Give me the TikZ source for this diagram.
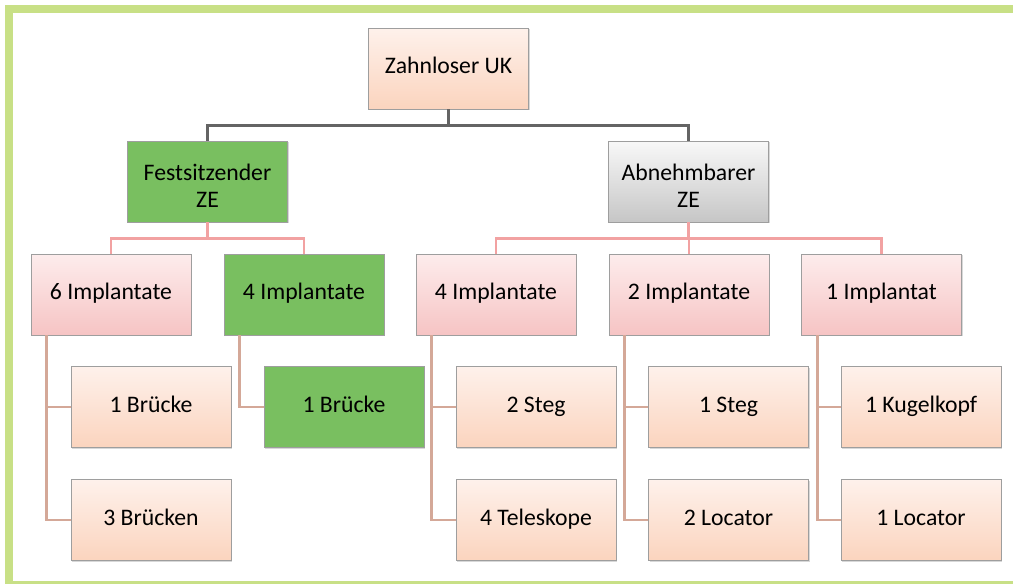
\documentclass[tikz,border=0pt]{standalone}
\usepackage{fontspec}
\setmainfont{Carlito}
\usetikzlibrary{shadows}

\definecolor{framegreen}{RGB}{200,224,134}
\definecolor{boxgreen}{RGB}{121,191,96}
\definecolor{peachtop}{RGB}{254,241,235}
\definecolor{peachbot}{RGB}{251,212,190}
\definecolor{pinktop}{RGB}{253,236,236}
\definecolor{pinkbot}{RGB}{246,196,196}
\definecolor{graytop}{RGB}{248,248,248}
\definecolor{graybot}{RGB}{198,198,198}
\definecolor{mainline}{RGB}{100,100,100}
\definecolor{branchline}{RGB}{242,162,162}
\definecolor{treeline}{RGB}{212,168,152}

\begin{document}
\begin{tikzpicture}[x=0.02cm,y=-0.02cm]
    \tikzstyle{box}=[draw=black!38, minimum width=3.2cm, minimum height=1.62cm, inner sep=0pt,
        align=center, font=\fontsize{13.5}{15.5}\selectfont,
        drop shadow={opacity=0.3,shadow xshift=0.8pt,shadow yshift=-0.8pt}]
    \tikzstyle{peach box}=[box, top color=peachtop, bottom color=peachbot]
    \tikzstyle{pink box}=[box, top color=pinktop, bottom color=pinkbot]
    \tikzstyle{gray box}=[box, top color=graytop, bottom color=graybot]
    \tikzstyle{green box}=[box, fill=boxgreen]
    \tikzstyle{main line}=[draw=mainline, line width=1.8pt]
    \tikzstyle{branch line}=[draw=branchline, line width=1.6pt]
    \tikzstyle{tree line}=[draw=treeline, line width=1.6pt]

    % Frame
    \useasboundingbox (0,0) rectangle (1013,584);
    \fill[framegreen] (5,5) rectangle (1013,584);
    \fill[white] (13,13) rectangle (1013,581);

    % Draw the root node
    \node[peach box] (UK) at (448.5,68.5) {\strut Zahnloser UK};

    % Draw the two kinds of prosthesis
    \node[green box] (FZ) at (207.5,181.5) {\rule{0pt}{14pt}Festsitzender\\ZE};
    \node[gray box] (AZ) at (688.5,181.5) {\rule{0pt}{14pt}Abnehmbarer\\ZE};

    % Draw the implant nodes
    \node[pink box] (I-6) at (111,294.5) {\strut 6 Implantate};
    \node[green box] (I-4a) at (304,294.5) {\strut 4 Implantate};
    \node[pink box] (I-4b) at (496,294.5) {\strut 4 Implantate};
    \node[pink box] (I-2) at (689,294.5) {\strut 2 Implantate};
    \node[pink box] (I-1) at (881.5,294.5) {\strut 1 Implantat};

    % Draw the restorations below the implant nodes
    \foreach \name/\x/\y/\txt in {R-1/151/407/1 Brücke, R-2/151/520/3 Brücken,
                                  R-4/536/407/2 Steg, R-5/536/520/4 Teleskope,
                                  R-6/728.5/407/1 Steg, R-7/728.5/520/2 Locator,
                                  R-8/921/407/1 Kugelkopf, R-9/921/520/1 Locator}
        \node[peach box] (\name) at (\x,\y) {\strut\txt};
    \node[green box] (R-3) at (344,407) {\strut 1 Brücke};

    % Connect the root with both kinds of prosthesis
    \foreach \target in {FZ,AZ}
        \draw[main line] (UK.south) -- ++(0,16) -| (\target.north);

    % Connect every prosthesis with its implant nodes
    \foreach \target in {I-6,I-4a}
        \draw[branch line] (FZ.south) -- ++(0,16) -| (\target.north);
    \foreach \target in {I-4b,I-2,I-1}
        \draw[branch line] (AZ.south) -- ++(0,16) -| (\target.north);

    % Connect the implant nodes with the restorations
    \foreach \source/\target in {I-6/R-1, I-6/R-2, I-4a/R-3, I-4b/R-4, I-4b/R-5,
                                 I-2/R-6, I-2/R-7, I-1/R-8, I-1/R-9}
        \draw[tree line] ([xshift=0.32cm]\source.south west) |- (\target.west);
\end{tikzpicture}
\end{document}
